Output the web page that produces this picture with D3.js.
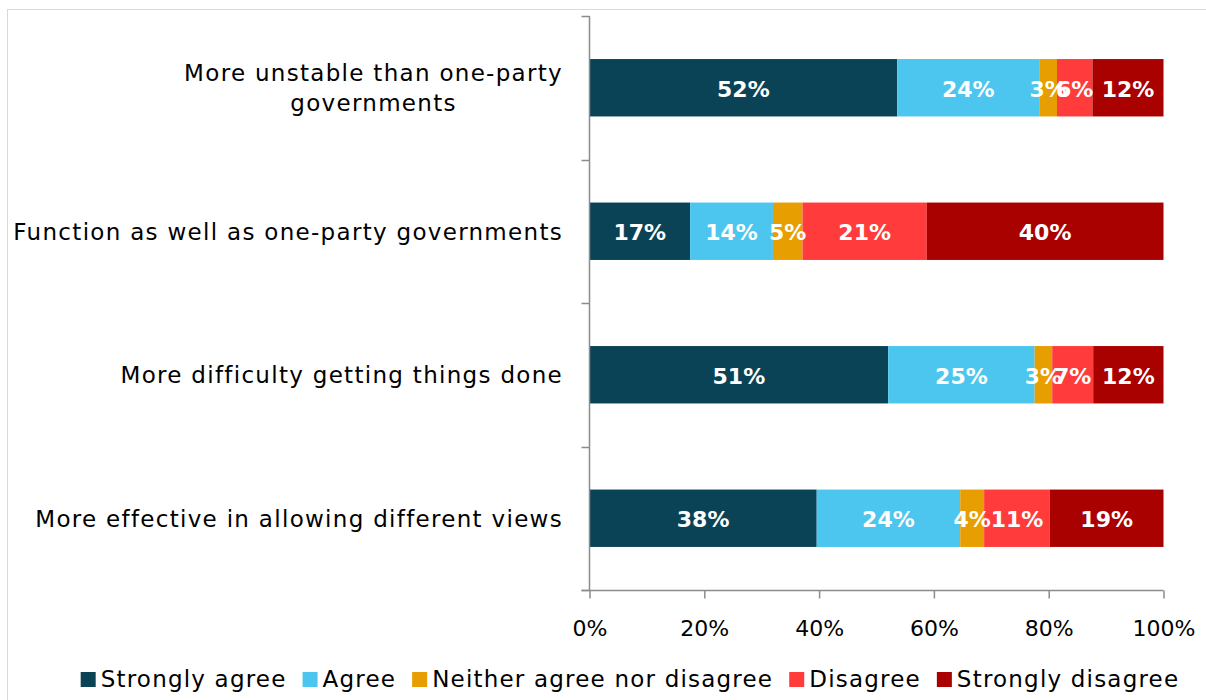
<!DOCTYPE html>
<html>
<head>
<meta charset="utf-8">
<script src="https://cdn.jsdelivr.net/npm/d3@7"></script>
<style>
  html, body { margin: 0; padding: 0; background: #fff; }
  svg { display: block; }
  text { font-family: "DejaVu Sans", sans-serif; }
</style>
</head>
<body>
<svg id="chart" width="1206" height="700"></svg>
<script>
// Statements (top to bottom); first one wraps onto two lines
const categories = [
  ["More unstable than one-party", "governments"],
  ["Function as well as one-party governments"],
  ["More difficulty getting things done"],
  ["More effective in allowing different views"]
];

const seriesNames = ["Strongly agree", "Agree", "Neither agree nor disagree", "Disagree", "Strongly disagree"];
const seriesColors = ["#0B4356", "#4DC6EF", "#E69E00", "#FF3B3B", "#A90000"];

// Percent of respondents per statement, in series order
const stronglyAgree    = [52, 17, 51, 38];
const agree            = [24, 14, 25, 24];
const neither          = [3, 5, 3, 4];
const disagree         = [6, 21, 7, 11];
const stronglyDisagree = [12, 40, 12, 19];

const tickValues = [0, 0.2, 0.4, 0.6, 0.8, 1.0];

const svg = d3.select("#chart");

// Light frame around the chart area
svg.append("rect")
  .attr("x", 7.5).attr("y", 9.5)
  .attr("width", 1220).attr("height", 720)
  .attr("fill", "none").attr("stroke", "#d9d9d9").attr("stroke-width", 1);

const plot = { left: 589.5, right: 1163.5, top: 16, bottom: 590 };

const rows = categories.map((c, i) => ({
  label: c,
  values: [stronglyAgree[i], agree[i], neither[i], disagree[i], stronglyDisagree[i]]
}));

const x = d3.scaleLinear().domain([0, 1]).range([plot.left, plot.right]);
const y = d3.scaleBand()
  .domain(d3.range(rows.length))
  .range([plot.top, plot.bottom])
  .paddingInner(0.6).paddingOuter(0.3);

// Each row is normalised so the segments fill 100%
rows.forEach(r => {
  const total = d3.sum(r.values);
  let acc = 0;
  r.segs = r.values.map((v, k) => {
    const s = { k, v, x0: acc / total, x1: (acc + v) / total };
    acc += v;
    return s;
  });
});

const rowG = svg.append("g").selectAll("g")
  .data(rows).join("g")
  .attr("transform", (d, i) => `translate(0,${y(i)})`);

rowG.selectAll("rect")
  .data(d => d.segs).join("rect")
  .attr("x", d => x(d.x0))
  .attr("width", d => x(d.x1) - x(d.x0))
  .attr("y", 0)
  .attr("height", y.bandwidth())
  .attr("fill", d => seriesColors[d.k]);

rowG.selectAll("text.val")
  .data(d => d.segs).join("text")
  .attr("class", "val")
  .attr("x", d => (x(d.x0) + x(d.x1)) / 2)
  .attr("y", y.bandwidth() / 2 + 1)
  .attr("dy", "0.36em")
  .attr("text-anchor", "middle")
  .attr("fill", "#fff")
  .attr("font-weight", "bold")
  .attr("font-size", 22)
  .text(d => d.v + "%");

// Category axis: vertical line with ticks between categories
const axisCol = "#8c8c8c";
const bounds = d3.range(rows.length + 1).map(i => plot.top + i * (plot.bottom - plot.top) / rows.length);
svg.append("line")
  .attr("x1", plot.left).attr("x2", plot.left)
  .attr("y1", plot.top).attr("y2", plot.bottom)
  .attr("stroke", axisCol).attr("stroke-width", 1.5);
svg.selectAll("line.ctick").data(bounds).join("line")
  .attr("class", "ctick")
  .attr("x1", plot.left - 8).attr("x2", plot.left)
  .attr("y1", d => Math.round(d) + 0.5).attr("y2", d => Math.round(d) + 0.5)
  .attr("stroke", axisCol).attr("stroke-width", 1.5);

// Category labels
const labelRight = 563;
const lab = svg.append("g").selectAll("text")
  .data(rows).join("text")
  .attr("font-size", 23)
  .attr("letter-spacing", 1.3)
  .attr("fill", "#000");
lab.each(function (d, i) {
  const t = d3.select(this);
  const cy = y(i) + y.bandwidth() / 2;
  const n = d.label.length;
  const lh = 30;
  d.label.forEach((line, j) => {
    t.append("tspan").attr("y", cy + (j - (n - 1) / 2) * lh).attr("dy", "0.36em").text(line);
  });
});
// Right-align the widest line, centre the rest under it
lab.each(function (d) {
  const spans = d3.select(this).selectAll("tspan").nodes();
  const w = d3.max(spans, s => s.getComputedTextLength());
  const cx = labelRight - w / 2;
  spans.forEach(s => d3.select(s).attr("x", cx).attr("text-anchor", "middle"));
});

// Value axis
const xAxis = svg.append("g")
  .attr("transform", `translate(0,${plot.bottom + 0.5})`)
  .call(d3.axisBottom(x).tickValues(tickValues).tickFormat(d3.format(".0%")).tickSizeOuter(0).tickSize(8).tickPadding(22));
xAxis.select(".domain").attr("stroke", axisCol).attr("stroke-width", 1.5)
  .attr("d", `M${plot.left - 8},0H${plot.right}`);
xAxis.selectAll(".tick line").attr("stroke", axisCol).attr("stroke-width", 1.5);
xAxis.selectAll(".tick text")
  .attr("font-family", "DejaVu Sans, sans-serif")
  .attr("font-size", 22).attr("fill", "#000");

// Legend, centred under the plot
const legend = svg.append("g");
const items = legend.selectAll("g").data(seriesNames).join("g");
items.append("rect")
  .attr("width", 15).attr("height", 15)
  .attr("y", -7)
  .attr("fill", (d, i) => seriesColors[i]);
items.append("text")
  .attr("x", 20).attr("dy", "0.36em")
  .attr("font-size", 23).attr("letter-spacing", 1.2).attr("fill", "#000")
  .text(d => d);
let off = 0;
items.each(function () {
  const w = this.getBBox().width;
  d3.select(this).attr("transform", `translate(${off},0)`);
  off += w + 16;
});
const legendW = off - 16;
legend.attr("transform", `translate(${(77 + 1183) / 2 - legendW / 2},679)`);
</script>
</body>
</html>
